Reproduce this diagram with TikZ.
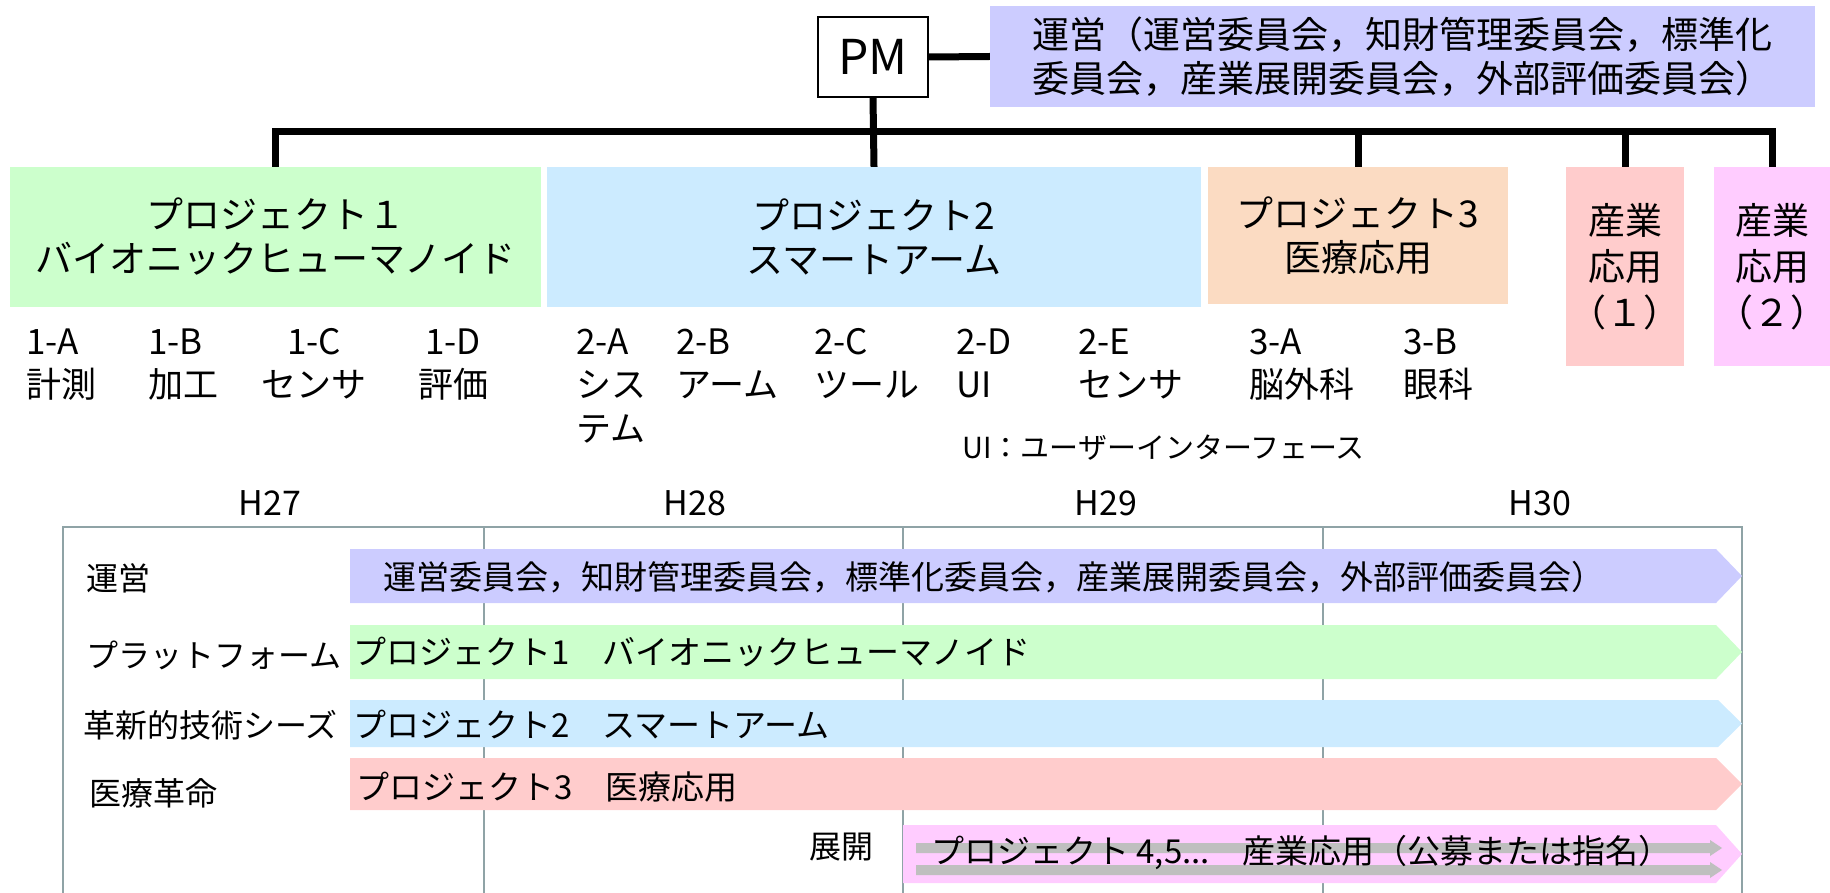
\documentclass[tikz,border=0pt]{standalone}
\usepackage{fontspec}
\setmainfont{Noto Sans CJK JP}
\definecolor{cPurple}{HTML}{CCCCFF}
\definecolor{cGreen}{HTML}{CCFFCC}
\definecolor{cBlue}{HTML}{CCEBFF}
\definecolor{cPeach}{HTML}{FBDBC2}
\definecolor{cRed}{HTML}{FFCCCC}
\definecolor{cMag}{HTML}{FFCCFF}
\definecolor{cFrame}{HTML}{8FA3A6}
\definecolor{cBar}{HTML}{BFBFBF}
\newcommand\fsz[2]{\fontsize{#1}{#2}\selectfont}
\begin{document}
\begin{tikzpicture}[x=1pt,y=-1pt,
  tree/.style={line width=7pt},
  pbox/.style={inner sep=0pt, align=center, font=\fsz{37}{44}},
  sublab/.style={inner sep=0pt, align=left, anchor=base west, font=\fsz{35}{43.5}},
  sublabc/.style={inner sep=0pt, align=center, anchor=base, font=\fsz{35}{43.5}},
  yearlab/.style={inner sep=0pt, anchor=base, font=\fsz{34}{40}},
  rowlab/.style={inner sep=0pt, anchor=west, font=\fsz{32}{38}},
  bartext/.style={inner sep=0pt, anchor=west, font=\fsz{33}{38}},
  frame/.style={draw=cFrame, line width=2.5pt},
  graybar/.style={fill=cBar}]
\useasboundingbox (0,0) rectangle (1830,893);
% ---------- tree ----------
\node[draw, line width=1.5pt, fill=white, minimum width=110, minimum height=80, inner sep=0pt, font=\fsz{48}{52}] (pm) at (873,57) {PM};
\node[pbox, fill=cPurple, minimum width=825, minimum height=101, align=left] (ops) at (1402.5,56.5) {運営（運営委員会，知財管理委員会，標準化\\委員会，産業展開委員会，外部評価委員会）};
\node[pbox, fill=cGreen, minimum width=531, minimum height=140] (p1) at (275.5,237) {プロジェクト１\\バイオニックヒューマノイド};
\node[pbox, fill=cBlue, minimum width=654, minimum height=140] (p2) at (874,237) {プロジェクト2\\スマートアーム};
\node[pbox, fill=cPeach, minimum width=300, minimum height=137] (p3) at (1358,235.5) {プロジェクト3\\医療応用};
\node[pbox, fill=cRed, minimum width=118, minimum height=199, font=\fsz{37}{46}] (ind1) at (1625,266.5) {産業\\応用\\（１）};
\node[pbox, fill=cMag, minimum width=116, minimum height=199, font=\fsz{37}{46}] (ind2) at (1772,266.5) {産業\\応用\\（２）};
\coordinate (bar) at (874,132);
\draw[tree] (pm.east) -- (ops.west);
\draw[tree] (pm.south) -- (p2.north);
\draw[tree, line join=miter] (p1.north) |- (bar) -| (ind2.north);
\draw[tree] (p3.north) -- (p3.north |- bar);
\draw[tree] (ind1.north) -- (ind1.north |- bar);
% ---------- sub labels (positioned at baseline of last line) ----------
\node[sublab] (s1a) at (26,397.5) {1-A\\計測};
\node[sublab] (s1b) at (148,397.5) {1-B\\加工};
\node[sublabc] (s1c) at (314,397.5) {1-C\\センサ};
\node[sublabc] (s1d) at (453,397.5) {1-D\\評価};
\node[sublab] (s2a) at (576,441) {2-A\\シス\\テム};
\node[sublab] (s2b) at (676,397.5) {2-B\\アーム};
\node[sublab] (s2c) at (814,397.5) {2-C\\ツール};
\node[sublab] (s2d) at (956,397.5) {2-D\\UI};
\node[sublab] (s2e) at (1078,397.5) {2-E\\センサ};
\node[sublab] (s3a) at (1249,397.5) {3-A\\脳外科};
\node[sublab] (s3b) at (1403,397.5) {3-B\\眼科};
\node[inner sep=0pt, anchor=west, font=\fsz{29}{34}] (uinote) at (962,448) {UI：ユーザーインターフェース};
% ---------- timeline ----------
\node[yearlab] (h27) at (270,515) {H27};
\node[yearlab] (h28) at (695,515) {H28};
\node[yearlab] (h29) at (1106,515) {H29};
\node[yearlab] (h30) at (1540,515) {H30};
\draw[frame] (63,900) -- (63,527) -- (1742,527) -- (1742,900);
\draw[frame] (484,527) -- (484,900);
\draw[frame] (903,527) -- (903,900);
\draw[frame] (1323,527) -- (1323,900);
% arrows
\fill[cPurple] (350,549) -- (1716,549) -- (1742,576) -- (1716,603) -- (350,603) -- cycle;
\fill[cGreen] (350,625) -- (1716,625) -- (1742,652) -- (1716,679) -- (350,679) -- cycle;
\fill[cBlue] (350,700) -- (1718,700) -- (1742,723.5) -- (1718,747) -- (350,747) -- cycle;
\fill[cRed] (350,758) -- (1716,758) -- (1742,784) -- (1716,810) -- (350,810) -- cycle;
\fill[cMag] (903,825) -- (1716,825) -- (1742,854) -- (1716,883) -- (903,883) -- cycle;
\fill[graybar] (916,843) -- (1710,843) -- (1710,840) -- (1722,848) -- (1710,856) -- (1710,853) -- (916,853) -- cycle;
\fill[graybar] (916,865) -- (1710,865) -- (1710,862) -- (1722,870) -- (1710,878) -- (1710,875) -- (916,875) -- cycle;
% row labels
\node[rowlab] (r1) at (86,578) {運営};
\node[rowlab] (r2) at (86,655) {プラットフォーム};
\node[rowlab] (r3) at (83,725) {革新的技術シーズ};
\node[rowlab] (r4) at (89,793) {医療革命};
\node[rowlab] (r5) at (809,847) {展開};
% bar texts
\node[bartext] (t1) at (383,577) {運営委員会，知財管理委員会，標準化委員会，産業展開委員会，外部評価委員会）};
\node[bartext] (t2) at (353,652) {プロジェクト1　バイオニックヒューマノイド};
\node[bartext] (t3) at (353,725) {プロジェクト2　スマートアーム};
\node[bartext] (t4) at (356,787) {プロジェクト3　医療応用};
\node[bartext] (t5) at (931,853) {プロジェクト 4,5...　産業応用（公募または指名）};
\end{tikzpicture}
\end{document}
